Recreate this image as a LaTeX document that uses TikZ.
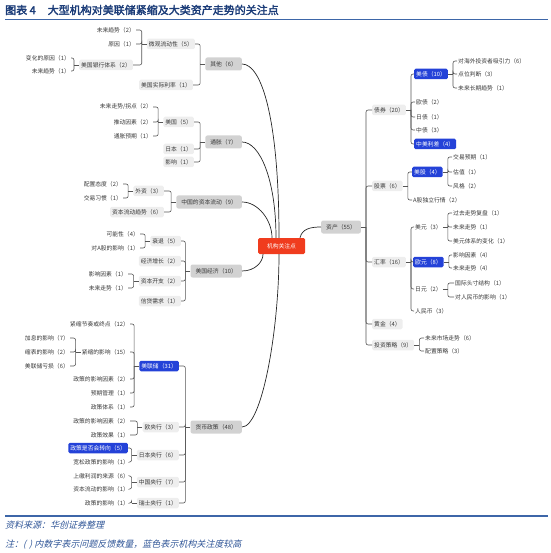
\documentclass[tikz,border=0pt]{standalone}
\usepackage{fontspec}
\newfontfamily\cjk{Noto Sans CJK SC}
\newfontfamily\cjkbf{Noto Sans CJK SC}[FakeBold=2.5]
\newfontfamily\cjkit{Noto Sans CJK SC}[FakeSlant=0.25]
\definecolor{subgray}{HTML}{EEEEEE}
\definecolor{maingray}{HTML}{D2D2D2}
\definecolor{hotblue}{HTML}{2442D8}
\definecolor{rootred}{HTML}{F03C1E}
\definecolor{brgray}{HTML}{555555}
\definecolor{titleblue}{HTML}{1B3C78}
\definecolor{noteblue}{HTML}{2F5597}
\definecolor{rule}{HTML}{3D66A8}
\tikzset{
  every node/.style={font=\cjk\fontsize{5.8}{7}\selectfont, text=black!78, inner sep=1pt},
  leaf/.style={},
  sub/.style={fill=subgray, rounded corners=1.5pt, inner xsep=2pt, minimum height=10.5pt},
  hot/.style={fill=hotblue, text=white, rounded corners=1.5pt, inner xsep=2pt, minimum height=10.5pt},
  main/.style={fill=maingray, rounded corners=2pt, inner xsep=5pt, minimum height=13pt},
  root/.style={fill=rootred, text=white, rounded corners=1.5pt, minimum width=47pt, minimum height=16pt},
  br/.style={draw=brgray, line width=.6pt, rounded corners=2pt},
  crv/.style={draw=black!85, line width=.7pt}
}
\begin{document}
\begin{tikzpicture}[x=1pt,y=-1pt]
    \useasboundingbox (0,0) rectangle (550,553);
    % title and rules
    \node[anchor=west, font=\cjkbf\fontsize{11}{13}\selectfont, text=titleblue, inner sep=0pt]
      (title) at (5,10) {图表 4\hspace{12pt}大型机构对美联储紧缩及大类资产走势的关注点};
    \draw[rule, line width=1.3pt] (5,19.5) -- (548,19.5);
    \draw[rule, line width=1.3pt] (5,516) -- (548,516);
    \node[anchor=west, font=\cjkit\fontsize{9}{11}\selectfont, text=noteblue, inner sep=0pt]
      (src) at (5,525) {资料来源：华创证券整理};
    \node[anchor=west, font=\cjkit\fontsize{9}{11}\selectfont, text=noteblue, inner sep=0pt]
      (note) at (5,545) {注：(\,\,) 内数字表示问题反馈数量，蓝色表示机构关注度较高};

    % root
    \node[root] (root) at (281.5,246) {机构关注点};

    % 其他
    \node[main, anchor=east] (qt) at (242,64) {其他（6）};
    \node[sub, anchor=east] (wg) at (195,44) {微观流动性（5）};
    \node[leaf, anchor=east] (wg1) at (136,30) {未来趋势（2）};
    \node[leaf, anchor=east] (wg2) at (136,44) {原因（1）};
    \node[sub, anchor=east] (yh) at (133,65) {美国银行体系（2）};
    \node[leaf, anchor=east] (yh1) at (71,58) {变化的原因（1）};
    \node[leaf, anchor=east] (yh2) at (71,71) {未来趋势（1）};
    \node[sub, anchor=east] (sl) at (193,85) {美国实际利率（1）};

    % 通胀
    \node[main, anchor=east] (tz) at (242,142) {通胀（7）};
    \node[sub, anchor=east] (mg) at (194,122) {美国（5）};
    \node[leaf, anchor=east] (mg1) at (153,107) {未来走势/拐点（2）};
    \node[leaf, anchor=east] (mg2) at (153,122) {推动因素（2）};
    \node[leaf, anchor=east] (mg3) at (153,136) {通胀预期（1）};
    \node[sub, anchor=east] (rb) at (194,149) {日本（1）};
    \node[sub, anchor=east] (yx) at (194,162) {影响（1）};

    % 中国的资本流动
    \node[main, anchor=east] (zg) at (242,202) {中国的资本流动（9）};
    \node[sub, anchor=east] (wz) at (164,191) {外资（3）};
    \node[leaf, anchor=east] (wz1) at (123,184) {配置态度（2）};
    \node[leaf, anchor=east] (wz2) at (123,198) {交易习惯（1）};
    \node[sub, anchor=east] (zb) at (164,212) {资本流动趋势（6）};

    % 美国经济
    \node[main, anchor=east] (mj) at (242,271) {美国经济（10）};
    \node[sub, anchor=east] (sx) at (181,241) {衰退（5）};
    \node[leaf, anchor=east] (sx1) at (140,234) {可能性（4）};
    \node[leaf, anchor=east] (sx2) at (140,248) {对A股的影响（1）};
    \node[sub, anchor=east] (jj) at (181,261) {经济增长（2）};
    \node[sub, anchor=east] (zk) at (181,281) {资本开支（2）};
    \node[leaf, anchor=east] (zk1) at (128,274) {影响因素（1）};
    \node[leaf, anchor=east] (zk2) at (128,288) {未来走势（1）};
    \node[sub, anchor=east] (xd) at (181,301) {信贷需求（1）};

    % 货币政策
    \node[main, anchor=east] (hb) at (242,427) {货币政策（48）};
    \node[hot, anchor=east] (mlc) at (179,366) {美联储（31）};
    \node[leaf, anchor=east] (mlc1) at (130,324) {紧缩节奏或终点（12）};
    \node[leaf, anchor=east] (js) at (130,352) {紧缩的影响（15）};
    \node[leaf, anchor=east] (js1) at (70,338) {加息的影响（7）};
    \node[leaf, anchor=east] (js2) at (70,352) {缩表的影响（2）};
    \node[leaf, anchor=east] (js3) at (70,366) {美联储亏损（6）};
    \node[leaf, anchor=east] (mlc3) at (130,379) {政策的影响因素（2）};
    \node[leaf, anchor=east] (mlc4) at (130,393) {预期管理（1）};
    \node[leaf, anchor=east] (mlc5) at (130,407) {政策体系（1）};
    \node[sub, anchor=east] (oy) at (179,427) {欧央行（3）};
    \node[leaf, anchor=east] (oy1) at (130,421) {政策的影响因素（2）};
    \node[leaf, anchor=east] (oy2) at (130,435) {政策效果（1）};
    \node[sub, anchor=east] (ry) at (179,455) {日本央行（6）};
    \node[hot, anchor=east] (ry1) at (128,448) {政策是否会转向（5）};
    \node[leaf, anchor=east] (ry2) at (130,462) {宽松政策的影响（1）};
    \node[sub, anchor=east] (zy) at (179,482) {中国央行（7）};
    \node[leaf, anchor=east] (zy1) at (130,476) {上缴利润的来源（6）};
    \node[leaf, anchor=east] (zy2) at (130,489) {资本流动的影响（1）};
    \node[sub, anchor=east] (rs) at (179,503) {瑞士央行（1）};
    \node[leaf, anchor=east] (rs1) at (130,503) {政策的影响（1）};

    % 资产
    \node[main, anchor=west] (zc) at (321,227) {资产（55）};
    \node[sub, anchor=west] (zq) at (372,110) {债券（20）};
    \node[hot, anchor=west] (md) at (414,74) {美债（10）};
    \node[leaf, anchor=west] (md1) at (457,61) {对海外投资者吸引力（6）};
    \node[leaf, anchor=west] (md2) at (457,74) {点位判断（3）};
    \node[leaf, anchor=west] (md3) at (457,88) {未来长期趋势（1）};
    \node[leaf, anchor=west] (oz) at (415,102) {欧债（2）};
    \node[leaf, anchor=west] (rz) at (415,117) {日债（1）};
    \node[leaf, anchor=west] (zz) at (415,130) {中债（3）};
    \node[hot, anchor=west] (lc) at (414,144) {中美利差（4）};
    \node[sub, anchor=west] (gp) at (372,186) {股票（6）};
    \node[hot, anchor=west] (mgu) at (412,172) {美股（4）};
    \node[leaf, anchor=west] (mgu1) at (452,157) {交易预期（1）};
    \node[leaf, anchor=west] (mgu2) at (452,172) {估值（1）};
    \node[leaf, anchor=west] (mgu3) at (452,186) {风格（2）};
    \node[leaf, anchor=west] (ag) at (412,200) {A股独立行情（2）};
    \node[sub, anchor=west] (hl) at (372,262) {汇率（16）};
    \node[leaf, anchor=west] (usd) at (414,227) {美元（3）};
    \node[leaf, anchor=west] (usd1) at (452,213) {过去走势复盘（1）};
    \node[leaf, anchor=west] (usd2) at (452,227) {未来走势（1）};
    \node[leaf, anchor=west] (usd3) at (452,241) {美元体系的变化（1）};
    \node[hot, anchor=west] (eur) at (413,262) {欧元（8）};
    \node[leaf, anchor=west] (eur1) at (452,255) {影响因素（4）};
    \node[leaf, anchor=west] (eur2) at (452,268) {未来走势（4）};
    \node[leaf, anchor=west] (jpy) at (414,289) {日元（2）};
    \node[leaf, anchor=west] (jpy1) at (454,283) {国际头寸结构（1）};
    \node[leaf, anchor=west] (jpy2) at (454,297) {对人民币的影响（1）};
    \node[leaf, anchor=west] (cny) at (414,311) {人民币（3）};
    \node[sub, anchor=west] (hj) at (372,324) {黄金（4）};
    \node[sub, anchor=west] (tc) at (372,345) {投资策略（9）};
    \node[leaf, anchor=west] (tc1) at (424,338) {未来市场走势（6）};
    \node[leaf, anchor=west] (tc2) at (424,351) {配置策略（3）};

    % brackets, left side
    \foreach \p/\cs in {qt/{wg,sl}, wg/{wg1,wg2,yh}, yh/{yh1,yh2},
        tz/{mg,rb,yx}, mg/{mg1,mg2,mg3}, zg/{wz,zb}, wz/{wz1,wz2},
        mj/{sx,jj,zk,xd}, sx/{sx1,sx2}, zk/{zk1,zk2},
        hb/{mlc,oy,ry,zy,rs}, mlc/{mlc1,js,mlc3,mlc4,mlc5}, js/{js1,js2,js3},
        oy/{oy1,oy2}, ry/{ry1,ry2}, zy/{zy1,zy2}, rs/{rs1}} {
      \draw[br] (\p.west) -- ++(-5,0) coordinate (\p-j);
      \foreach \c in \cs
        \draw[br] (\p-j) |- (\c.east);
    }
    % brackets, right side
    \foreach \p/\cs in {zc/{zq,gp,hl,hj,tc}, zq/{md,oz,rz,zz,lc}, md/{md1,md2,md3},
        gp/{mgu,ag}, mgu/{mgu1,mgu2,mgu3}, hl/{usd,eur,jpy,cny},
        usd/{usd1,usd2,usd3}, eur/{eur1,eur2}, jpy/{jpy1,jpy2}, tc/{tc1,tc2}} {
      \draw[br] (\p.east) -- ++(5,0) coordinate (\p-j);
      \foreach \c in \cs
        \draw[br] (\p-j) |- (\c.west);
    }

    % curves to the root
    \draw[crv] (qt.east) .. controls (262,64) and (279,120) .. ([xshift=-2.5pt]root.north);
    \draw[crv] (tz.east) .. controls (260,142) and (276,180) .. ([xshift=-5.5pt]root.north);
    \draw[crv] (zg.east) .. controls (258,202) and (272,220) .. ([xshift=-9.5pt]root.north);
    \draw[crv] (mj.east) .. controls (255,271) and (263,262) .. ([xshift=-18.5pt]root.south);
    \draw[crv] (hb.east) .. controls (262,427) and (279,330) .. ([xshift=-2.5pt]root.south);
    \draw[crv] ([xshift=18.5pt]root.north) .. controls (302,229) and (310,227) .. (zc.west);
\end{tikzpicture}
\end{document}
